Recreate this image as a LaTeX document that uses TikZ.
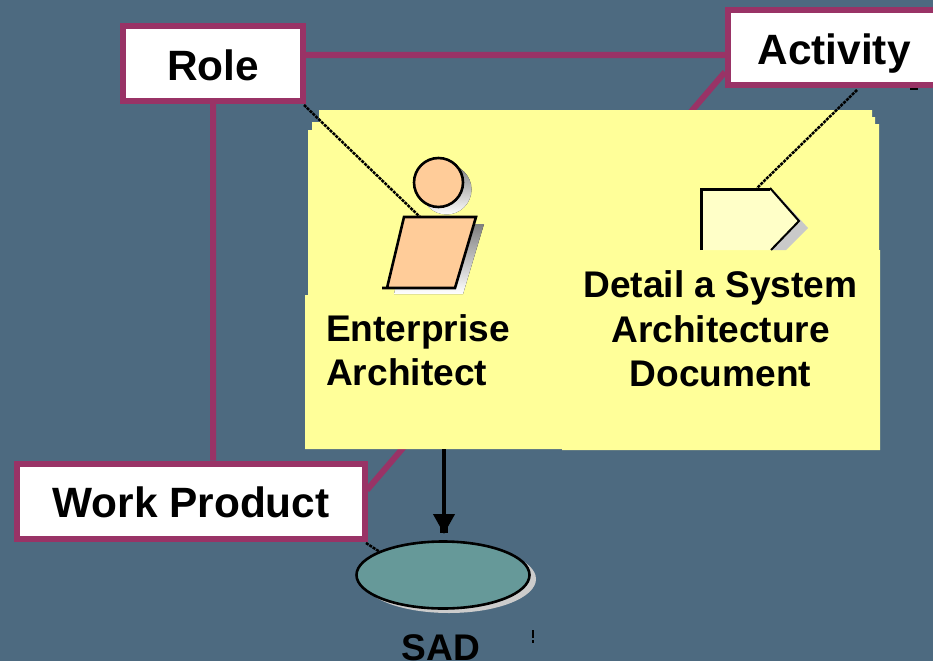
\documentclass[tikz,border=0pt]{standalone}
\usepackage{fontspec}
\setmainfont{Liberation Sans}
\usepackage{xcolor}
\usetikzlibrary{positioning,arrows.meta,shapes.geometric}
\definecolor{slate}{HTML}{4D6A80}
\definecolor{plum}{HTML}{993366}
\definecolor{notey}{HTML}{FFFF99}
\definecolor{peach}{HTML}{FFCC99}
\definecolor{paley}{HTML}{FFFFC8}
\definecolor{teal2}{HTML}{669999}
\definecolor{shade}{HTML}{BBBBBB}

\begin{document}
\begin{tikzpicture}[x=1pt,y=-1pt,
   label box/.style={draw=plum,line width=6pt,fill=white,inner sep=0pt,
      font=\fontsize{42.4}{46}\selectfont\bfseries,minimum height=75pt,
      text height=33pt,text depth=0pt},
   link/.style={draw=plum,line width=6pt},
   note text/.style={font=\fontsize{37.1}{44.5}\selectfont\bfseries,inner sep=0pt},
   dots/.style={draw=black,line width=2.5pt,dash pattern=on 3pt off 1pt},
   icon/.style={draw=black,line width=2.6pt}]
   \useasboundingbox (0,0) rectangle (933,661);
   \clip (0,0) rectangle (933,661);
   \fill[slate] (0,0) rectangle (933,661);

   % boxes
   \node[label box,minimum width=180pt] (role) at (213,63.5) {Role};
   \node[label box,minimum width=212pt] (activity) at (834,47.5) {Activity};
   \node[label box,minimum width=348pt] (wp) at (191,501) {Work Product};

   % triangle behind the note
   \coordinate (activityleg) at (725,72);
   \coordinate (wpleg) at (367,490);
   \path[link]
   (role.east |- 0,55) -- (activity.west |- 0,55)
   (activityleg) -- (wpleg)
   (role.south) -- (role.south |- wp.north);

   % note
   \fill[notey] (319,110) -- (872,110) -- (872,117) -- (875,117) -- (875,124)
      -- (879,124) -- (879,250)
      -- (880,250) -- (880,450) -- (562,450) -- (562,449) -- (305,449)
      -- (305,295) -- (308,295) -- (308,130) -- (312,130) -- (312,122)
      -- (319,122) -- cycle;
   \coordinate (noteout) at (444,449);

   % person
   \fill[shade] (446.5,189.5) circle (25);
   \fill[shade] (412,224) -- (484,224) -- (463,294) -- (394,294) -- cycle;
   \node[circle,icon,fill=peach,minimum size=49pt,inner sep=0pt] (head) at (438.5,182.5) {};
   \node[coordinate] (bodytop) at (420,217) {};
   \draw[icon,fill=peach] (404,217) -- (476,217) -- (455,288) -- (382,288)
      -- (387,288) -- cycle;
   \draw[dots] (304,105) -- (bodytop);

   % activity mark
   \fill[shade!80!white] (775,192) -- (808,228) -- (786,250) -- (772,250) -- cycle;
   \fill[paley] (700,188) -- (770,188) -- (799,221) -- (771,250) -- (700,250) -- cycle;
   \draw[icon,line width=2pt] (771,250) -- (799,221) -- (770,188);
   \draw[icon,line width=3pt] (701,250) -- (701,189) -- (770,189);
   \node[coordinate] (marktop) at (757,188) {};
   \draw[dots] (857,90) -- (marktop);

   % note text
   \node[note text,align=left,anchor=north west] (ea) at (326,314) {Enterprise\\Architect};
   \node[note text,align=center] (dsad) at (720.5,329) {Detail a System\\Architecture\\Document};

   % work product ellipse
   \fill[white!80!black] (449,579) ellipse (87 and 34);
   \node[ellipse,icon,fill=teal2,minimum width=173pt,minimum height=67pt,inner sep=0pt] (sad) at (443,575) {};
   \node[note text] (sadname) at (441,648) {SAD};
   \coordinate (tipend) at (444,533);
   \draw[line width=4pt,-{Triangle[width=21pt,length=20pt,sep=-10pt]Rectangle[width=8pt,length=9pt]}] (noteout) -- (tipend);
   \draw[dots] (366,543) -- (380,552);

   % stray marks
   \draw[line width=2pt] (910,89) -- (918,89);
   \draw[line width=2pt] (533,630) -- (533,638);
   \draw[line width=2pt] (533,640) -- (533,643);
\end{tikzpicture}
\end{document}
